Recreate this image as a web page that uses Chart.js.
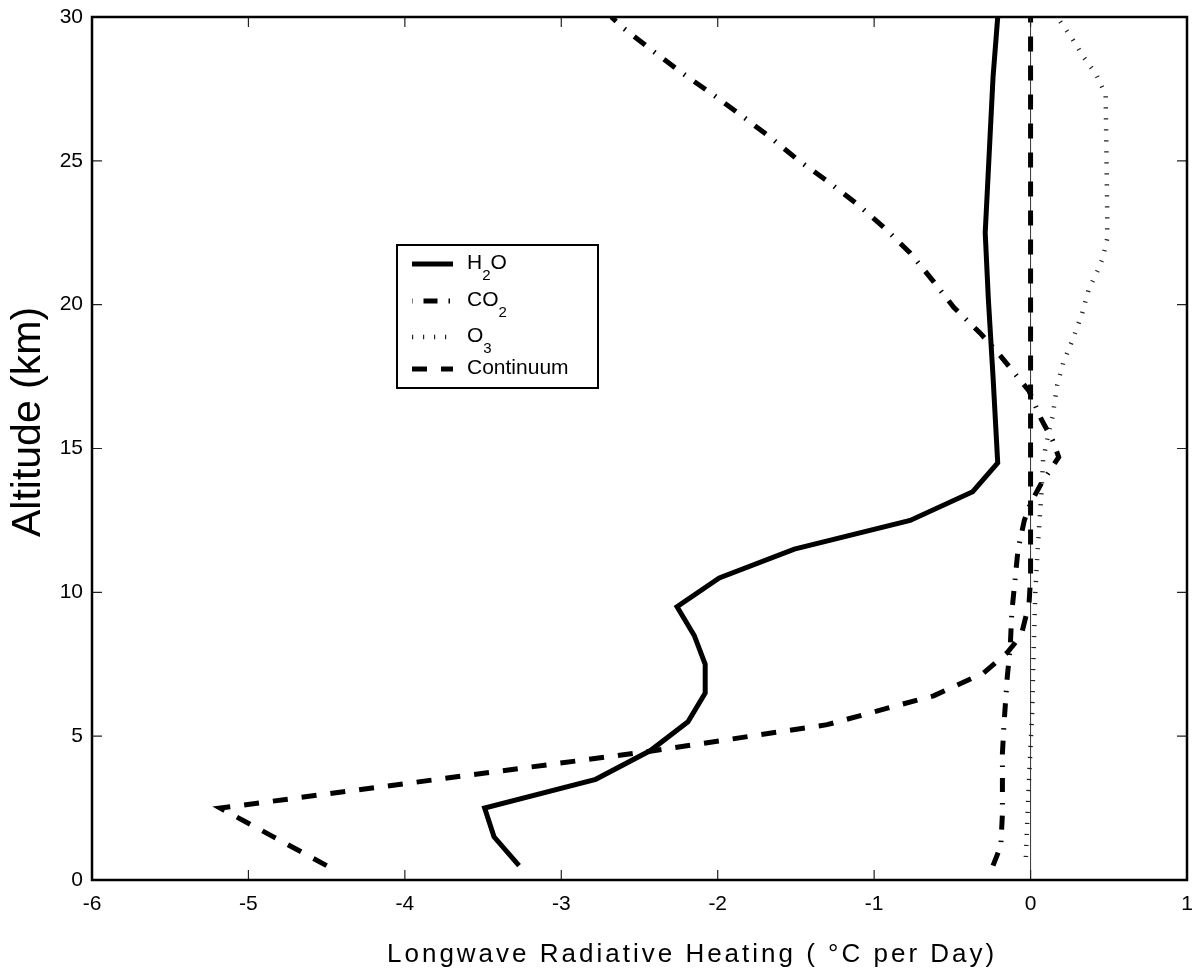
<!DOCTYPE html>
<html lang="en">
<head>
  <meta charset="UTF-8">
  <title>Longwave Radiative Heating</title>
  <script src="https://cdn.jsdelivr.net/npm/chart.js"></script>
  <style>
    html, body { margin: 0; padding: 0; background: #fff; overflow: hidden; }
    #wrap { width: 1192px; height: 971px; position: relative; }
    canvas { display: block; }
  </style>
</head>
<body>
  <div id="wrap"><canvas id="heatChart"></canvas></div>

  <script>
    // values (altitude in km, heating in degC/day)
    const h2oAlt  = [0.5, 1.5, 2.5, 3.5, 4.5, 5.5, 6.5, 7.5, 8.5, 9.5, 10.5, 11.5, 12.5, 13.5, 14.5, 17.5, 20.2, 22.5, 27.9, 30];
    const h2oHeat = [-3.27, -3.43, -3.49, -2.78, -2.43, -2.19, -2.08, -2.08, -2.15, -2.26, -1.99, -1.51, -0.77, -0.37, -0.21, -0.24, -0.27, -0.29, -0.24, -0.21];

    const co2Alt  = [0.5, 1.2, 2.3, 4.4, 5.4, 7.0, 8.1, 9.3, 10.4, 11.5, 12.5, 13.1, 13.8, 14.7, 15.3, 16.0, 17.0, 18.2, 19.0, 19.9, 20.8, 21.8, 22.7, 23.5, 24.3, 25.0, 25.8, 26.5, 27.3, 28.1, 28.8, 29.6, 30];
    const co2Heat = [-0.24, -0.19, -0.18, -0.18, -0.17, -0.15, -0.13, -0.12, -0.10, -0.08, -0.04, 0.0, 0.07, 0.18, 0.14, 0.07, -0.01, -0.19, -0.32, -0.49, -0.62, -0.77, -0.94, -1.11, -1.30, -1.48, -1.66, -1.83, -2.03, -2.24, -2.41, -2.60, -2.68];

    const o3Alt  = [0.8, 3.5, 5.8, 8.1, 10.0, 11.9, 13.5, 14.6, 15.4, 16.1, 17.2, 18.0, 18.8, 19.7, 20.5, 21.2, 21.6, 22.3, 23.2, 27.3, 28.0, 28.6, 29.3, 30];
    const o3Heat = [-0.03, -0.01, 0.01, 0.02, 0.03, 0.05, 0.07, 0.08, 0.11, 0.14, 0.17, 0.21, 0.27, 0.33, 0.37, 0.43, 0.46, 0.49, 0.49, 0.48, 0.42, 0.34, 0.26, 0.17];

    const contAlt  = [0.5, 1.5, 2.5, 4.5, 5.4, 6.1, 6.4, 7.2, 7.9, 8.5, 9.6, 10.5, 30];
    const contHeat = [-4.50, -4.84, -5.18, -2.40, -1.30, -0.83, -0.62, -0.30, -0.15, -0.06, -0.01, 0.0, 0.0];

    const zeroAlt  = [0, 30];
    const zeroHeat = [0, 0];

    const seriesLabels = ['H2O', 'CO2', 'O3', 'Continuum'];
    const xTitle = 'Longwave Radiative Heating ( \u00B0C per Day)';
    const yTitle = 'Altitude (km)';

    const FONT = '"Liberation Sans", Arial, sans-serif';

    function toPoints(alt, heat) {
      return alt.map((a, i) => ({ x: heat[i], y: a }));
    }

    // draws e.g. H2O with the digit as a subscript
    function drawChem(ctx, text, x, y) {
      let cx = x;
      for (let i = 0; i < text.length; i++) {
        const ch = text[i];
        const sub = /[0-9]/.test(ch) && i > 0 && /[A-Z]/.test(text[i - 1]);
        ctx.font = (sub ? '15px ' : '21px ') + FONT;
        ctx.fillText(ch, cx, sub ? y + 13 : y);
        cx += ctx.measureText(ch).width;
      }
    }

    // box, inward ticks, legend box and axis titles
    const frame = {
      id: 'frame',
      afterDatasetsDraw(chart) {
        const ctx = chart.ctx;
        const ca = chart.chartArea;
        const xs = chart.scales.x, ys = chart.scales.y;
        ctx.save();

        ctx.strokeStyle = '#222';
        ctx.lineWidth = 1.2;
        ctx.setLineDash([]);
        ctx.beginPath();
        xs.ticks.forEach((t, i) => {
          const px = xs.getPixelForTick(i);
          ctx.moveTo(px, ca.bottom); ctx.lineTo(px, ca.bottom - 10);
          ctx.moveTo(px, ca.top); ctx.lineTo(px, ca.top + 10);
        });
        ys.ticks.forEach((t, i) => {
          const py = ys.getPixelForTick(i);
          ctx.moveTo(ca.left, py); ctx.lineTo(ca.left + 10, py);
          ctx.moveTo(ca.right, py); ctx.lineTo(ca.right - 10, py);
        });
        ctx.stroke();

        ctx.strokeStyle = '#000';
        ctx.lineWidth = 2.5;
        ctx.strokeRect(ca.left, ca.top, ca.right - ca.left, ca.bottom - ca.top);

        // legend
        const bx = ca.left + 305, by = ca.top + 228;
        ctx.fillStyle = '#fff';
        ctx.fillRect(bx, by, 201, 143);
        ctx.lineWidth = 2;
        ctx.strokeRect(bx, by, 201, 143);
        const rows = [19, 56, 92, 124];
        chart.data.datasets.slice(0, 4).forEach((ds, i) => {
          const y = by + rows[i];
          ctx.strokeStyle = ds.borderColor;
          ctx.lineWidth = ds.borderWidth;
          ctx.setLineDash(ds.borderDash || []);
          ctx.lineDashOffset = ds.legendOffset || 0;
          ctx.beginPath();
          ctx.moveTo(bx + 15, y);
          ctx.lineTo(bx + 56, y);
          ctx.stroke();
          ctx.setLineDash([]);
          ctx.lineDashOffset = 0;
          ctx.fillStyle = '#000';
          ctx.textAlign = 'left';
          ctx.textBaseline = 'middle';
          drawChem(ctx, ds.label, bx + 70, y - 1);
        });

        // axis titles
        ctx.fillStyle = '#000';
        ctx.textBaseline = 'alphabetic';
        ctx.textAlign = 'left';
        ctx.font = '26px ' + FONT;
        ctx.letterSpacing = '3px';
        ctx.fillText(xTitle, 387, 962);
        ctx.letterSpacing = '0px';

        ctx.translate(40, 422);
        ctx.rotate(-Math.PI / 2);
        ctx.textAlign = 'center';
        ctx.font = '41px ' + FONT;
        ctx.fillText(yTitle, 0, 0);
        ctx.restore();
      }
    };

    const lineBase = { showLine: true, pointRadius: 0, borderColor: '#000', fill: false, tension: 0 };

    new Chart(document.getElementById('heatChart').getContext('2d'), {
      type: 'scatter',
      data: {
        datasets: [
          { ...lineBase, label: seriesLabels[0], data: toPoints(h2oAlt, h2oHeat), borderWidth: 5 },
          { ...lineBase, label: seriesLabels[1], data: toPoints(co2Alt, co2Heat), borderWidth: 5, borderDash: [14, 11, 1.5, 11], legendOffset: 26 },
          { ...lineBase, label: seriesLabels[2], data: toPoints(o3Alt, o3Heat), borderWidth: 4.5, borderColor: '#222', borderDash: [1.2, 9.8] },
          { ...lineBase, label: seriesLabels[3], data: toPoints(contAlt, contHeat), borderWidth: 5, borderDash: [15, 14] },
          { ...lineBase, label: 'zero', data: toPoints(zeroAlt, zeroHeat), borderWidth: 1, borderColor: '#333' }
        ]
      },
      options: {
        responsive: true,
        maintainAspectRatio: false,
        animation: false,
        layout: { padding: { top: 17, right: 5, left: 0, bottom: 0 } },
        plugins: {
          legend: { display: false },
          tooltip: { enabled: false }
        },
        scales: {
          x: {
            type: 'linear',
            min: -6, max: 1,
            ticks: { stepSize: 1, color: '#000', padding: 12, font: { family: FONT, size: 21 } },
            grid: { display: false, drawTicks: false },
            border: { display: false },
            afterFit: s => { s.height = 91; s.paddingLeft = 0; s.paddingRight = 0; }
          },
          y: {
            type: 'linear',
            min: 0, max: 30,
            ticks: { stepSize: 5, color: '#000', padding: 9, font: { family: FONT, size: 21 } },
            grid: { display: false, drawTicks: false },
            border: { display: false },
            afterFit: s => { s.width = 92; s.paddingTop = 0; s.paddingBottom = 0; }
          }
        }
      },
      plugins: [frame]
    });
  </script>
</body>
</html>
